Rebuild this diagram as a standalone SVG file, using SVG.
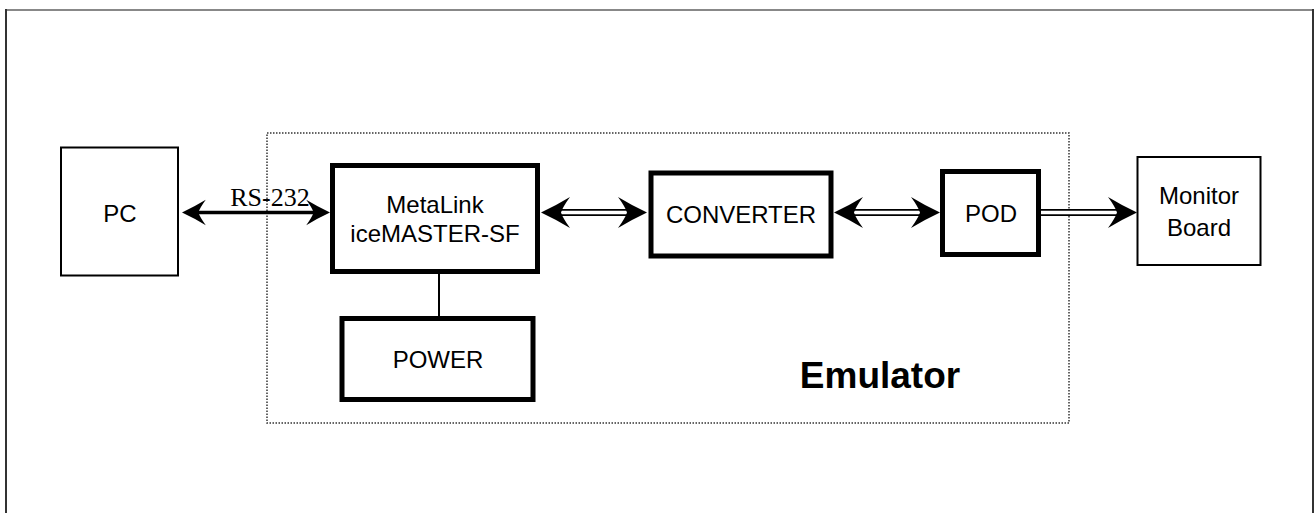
<svg xmlns="http://www.w3.org/2000/svg" xmlns:xlink="http://www.w3.org/1999/xlink" width="1315" height="513" viewBox="0 0 1315 513">
<style>
  .t { font-family: "Liberation Sans", Arial, sans-serif; font-size: 24px; fill: #000; text-anchor: middle; }
  .thick { fill: #fff; stroke: #000; stroke-width: 5; }
  .thin { fill: #fff; stroke: #000; stroke-width: 2; }
  .dl { stroke: #000; stroke-width: 7; fill: none; }
  .dlw { stroke: #fff; stroke-width: 3.5; fill: none; }
</style>
<defs>
  <path id="ah" d="M0,0 Q-15,-7 -29,-15.5 Q-22,-6 -20,0 Q-22,6 -29,15.5 Q-15,7 0,0 Z" fill="#000"/>
</defs>
<rect width="1315" height="513" fill="#fff"/>
<g id="frame">
  <line x1="6" y1="10" x2="1313" y2="10" stroke="#888" stroke-width="2"/>
  <line x1="6" y1="9" x2="6" y2="513" stroke="#333" stroke-width="2"/>
  <line x1="1313" y1="9" x2="1313" y2="513" stroke="#333" stroke-width="2"/>
</g>
<g id="emulator">
  <rect x="267" y="133" width="802" height="290" fill="none" stroke="#333" stroke-width="1.5" stroke-dasharray="1.5 1.5"/>
  <text x="880" y="388" style="font-family:'Liberation Sans', Arial, sans-serif; font-size:37px; font-weight:bold; text-anchor:middle">Emulator</text>
</g>
<g id="connectors">
  <line x1="439" y1="272" x2="439" y2="318" stroke="#000" stroke-width="2"/>
  <line x1="196" y1="212.5" x2="316" y2="212.5" stroke="#000" stroke-width="3.5"/>
  <use xlink:href="#ah" transform="translate(182,212.5) rotate(180) scale(0.82)"/>
  <use xlink:href="#ah" transform="translate(330,212.5) scale(0.82)"/>
  <line class="dl" x1="558" y1="212.5" x2="630" y2="212.5"/>
  <line class="dlw" x1="556" y1="212.5" x2="632" y2="212.5"/>
  <use xlink:href="#ah" transform="translate(541,212.5) rotate(180)"/>
  <use xlink:href="#ah" transform="translate(647,212.5)"/>
  <line class="dl" x1="851" y1="212.5" x2="923" y2="212.5"/>
  <line class="dlw" x1="849" y1="212.5" x2="925" y2="212.5"/>
  <use xlink:href="#ah" transform="translate(834,212.5) rotate(180)"/>
  <use xlink:href="#ah" transform="translate(940,212.5)"/>
  <line class="dl" x1="1040" y1="212.5" x2="1120" y2="212.5"/>
  <line class="dlw" x1="1040" y1="212.5" x2="1122" y2="212.5"/>
  <use xlink:href="#ah" transform="translate(1137,212.5)"/>
  <text x="270" y="206" style="font-family:'Liberation Serif', 'Times New Roman', serif; font-size:26px; text-anchor:middle">RS-232</text>
</g>
<g id="pc">
  <rect class="thin" x="61" y="147.5" width="117" height="128"/>
  <text class="t" x="120" y="222">PC</text>
</g>
<g id="metalink">
  <rect class="thick" x="332.5" y="165.5" width="205" height="106"/>
  <text class="t" x="435" y="213">MetaLink</text>
  <text class="t" x="435" y="242">iceMASTER-SF</text>
</g>
<g id="converter">
  <rect class="thick" x="651" y="173" width="180" height="83"/>
  <text class="t" x="741" y="223">CONVERTER</text>
</g>
<g id="pod">
  <rect class="thick" x="942.5" y="171.5" width="96" height="83"/>
  <text class="t" x="991" y="222">POD</text>
</g>
<g id="monitor">
  <rect class="thin" x="1137.5" y="157" width="123" height="108"/>
  <text class="t" x="1199" y="204">Monitor</text>
  <text class="t" x="1199" y="236">Board</text>
</g>
<g id="power">
  <rect class="thick" x="342" y="318.5" width="191" height="81"/>
  <text class="t" x="438" y="368">POWER</text>
</g>
</svg>
